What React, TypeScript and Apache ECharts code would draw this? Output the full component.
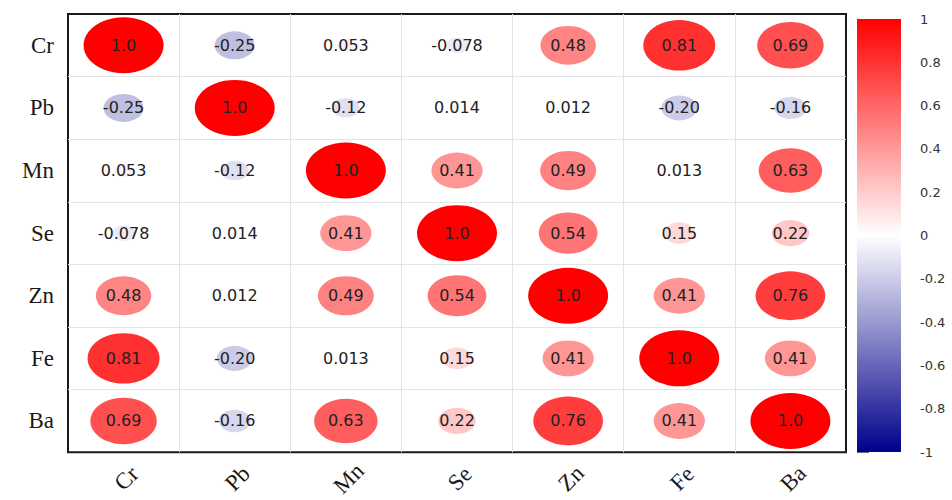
import React, { useEffect, useRef } from "react";
import * as echarts from "echarts";

// Variables in matrix order
const variables = ["Cr", "Pb", "Mn", "Se", "Zn", "Fe", "Ba"];

// Pearson correlation coefficients, one row per variable
const crRow = [1.0, -0.25, 0.053, -0.078, 0.48, 0.81, 0.69];
const pbRow = [-0.25, 1.0, -0.12, 0.014, 0.012, -0.2, -0.16];
const mnRow = [0.053, -0.12, 1.0, 0.41, 0.49, 0.013, 0.63];
const seRow = [-0.078, 0.014, 0.41, 1.0, 0.54, 0.15, 0.22];
const znRow = [0.48, 0.012, 0.49, 0.54, 1.0, 0.41, 0.76];
const feRow = [0.81, -0.2, 0.013, 0.15, 0.41, 1.0, 0.41];
const baRow = [0.69, -0.16, 0.63, 0.22, 0.76, 0.41, 1.0];

const rows = [crRow, pbRow, mnRow, seRow, znRow, feRow, baRow];

// Colour scale: -1 .. 0 .. 1
const scaleColors = ["#00008B", "#FFFFFF", "#FF0000"];

export default function App() {
  const ref = useRef<HTMLDivElement>(null);

  useEffect(() => {
    if (!ref.current) return;
    const chart = echarts.init(ref.current, null, { renderer: "svg" });

    const cells: number[][] = [];
    rows.forEach((row, ri) => {
      row.forEach((v, ci) => cells.push([ci, ri, v]));
    });

    const sansFont = "DejaVu Sans";
    const serifFont = "Liberation Serif";

    chart.setOption({
      animation: false,
      backgroundColor: "#ffffff",
      grid: [
        {
          left: 68,
          top: 14,
          width: 778,
          height: 442,
          show: true,
          borderColor: "#1a1a1a",
          borderWidth: 2,
          backgroundColor: "transparent",
        },
        { left: 857, top: 19, width: 44, height: 433 },
      ],
      xAxis: [
        {
          type: "category",
          gridIndex: 0,
          data: variables,
          position: "bottom",
          axisLine: { show: false },
          axisTick: { show: false },
          splitLine: {
            show: true,
            showMinLine: false,
            showMaxLine: false,
            lineStyle: { color: "#e4e4e4", width: 1 },
          },
          axisLabel: {
            rotate: 45,
            align: "center",
            verticalAlign: "middle",
            margin: 29,
            padding: [0, 0, 0, 8],
            fontFamily: serifFont,
            fontSize: 23,
            color: "#1a1a1a",
          },
        },
        { type: "value", gridIndex: 1, min: 0, max: 1, show: false },
      ],
      yAxis: [
        {
          type: "category",
          gridIndex: 0,
          data: variables,
          inverse: true,
          axisLine: { show: false },
          axisTick: { show: false },
          splitLine: {
            show: true,
            showMinLine: false,
            showMaxLine: false,
            lineStyle: { color: "#e4e4e4", width: 1 },
          },
          axisLabel: {
            margin: 14,
            fontFamily: serifFont,
            fontSize: 23,
            color: "#1a1a1a",
          },
        },
        {
          type: "value",
          gridIndex: 1,
          min: -1,
          max: 1,
          interval: 0.2,
          position: "right",
          axisLine: { show: true, lineStyle: { color: "#777", width: 1 } },
          axisTick: { show: true, inside: false, length: 12, lineStyle: { color: "#666" } },
          splitLine: { show: false },
          axisLabel: {
            margin: 19,
            fontFamily: sansFont,
            fontSize: 13,
            color: "#333",
          },
        },
      ],
      visualMap: {
        show: false,
        type: "continuous",
        seriesIndex: 0,
        dimension: 2,
        min: -1,
        max: 1,
        inRange: { color: scaleColors },
      },
      series: [
        {
          type: "scatter",
          xAxisIndex: 0,
          yAxisIndex: 0,
          data: cells,
          symbol: "circle",
          symbolSize: (val: number[]) => {
            const s = Math.sqrt(Math.abs(val[2]));
            return [80 * s, 56 * s];
          },
          itemStyle: { opacity: 1 },
          label: {
            show: true,
            position: "inside",
            formatter: (p: any) => Number(p.value[2]).toPrecision(2),
            fontFamily: sansFont,
            fontSize: 16,
            color: "#222",
          },
          z: 3,
        },
        {
          type: "custom",
          xAxisIndex: 1,
          yAxisIndex: 1,
          data: [[0, 0]],
          silent: true,
          renderItem: (_params: any, api: any) => {
            const topLeft = api.coord([0, 1]);
            const bottomRight = api.coord([1, -1]);
            return {
              type: "rect",
              shape: {
                x: topLeft[0],
                y: topLeft[1],
                width: bottomRight[0] - topLeft[0],
                height: bottomRight[1] - topLeft[1],
              },
              style: {
                fill: new echarts.graphic.LinearGradient(0, 0, 0, 1, [
                  { offset: 0, color: scaleColors[2] },
                  { offset: 0.5, color: scaleColors[1] },
                  { offset: 1, color: scaleColors[0] },
                ]),
              },
            };
          },
          z: 1,
        },
      ],
    });

    return () => chart.dispose();
  }, []);

  return (
    <div
      ref={ref}
      style={{ position: "absolute", left: 0, top: 0, width: 952, height: 500 }}
    />
  );
}
